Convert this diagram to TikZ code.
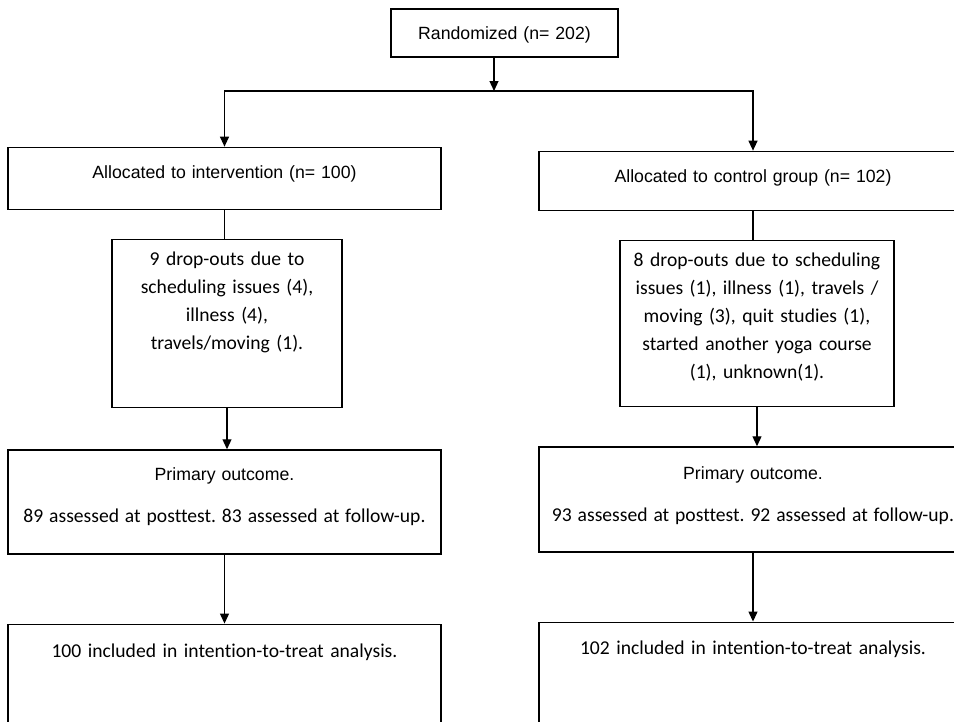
\documentclass[tikz,border=0pt]{standalone}
\usepackage{fontspec}
\newfontfamily\arialfam{Liberation Sans}
\newfontfamily\califam[Ligatures=NoCommon]{Carlito}
\usetikzlibrary{arrows.meta, positioning}
\frenchspacing

\begin{document}
\begin{tikzpicture}[
    x=1pt, y=-1pt,
    box/.style={draw, line width=1.3pt, inner sep=0pt, align=center,
        font=\fontsize{17.7}{28}\selectfont\arialfam},
    sidebox/.style={box, text width=433pt},
    dropbox/.style={box, font=\fontsize{19.6}{28}\selectfont\califam},
    arrow/.style={-{Triangle[length=10pt,width=9pt]}, line width=1.2pt},
    link/.style={line width=1.2pt, line cap=rect}
]
\useasboundingbox (0,0) rectangle (954,721);
\clip (0,0) rectangle (954,721);
\node[box, text width=227pt, text height=30pt, text depth=18pt] (rand) at (504.5,33) {Randomized (n= 202)};
\node[sidebox, text height=31pt, text depth=31pt, below=89pt of rand, xshift=-280pt] (int) {Allocated to intervention (n= 100)};
\node[sidebox, text width=428pt, text height=31pt, text depth=28pt, below=93pt of rand, xshift=248.5pt] (ctrl) {Allocated to control group (n= 102)};
\node[dropbox, text width=230pt, text height=26pt, text depth=142pt, below=29pt of int, xshift=2.5pt] (intdrop) {9 drop-outs due to\\scheduling issues (4),\\illness (4),\\travels/moving (1).};
\node[dropbox, text width=274pt, text height=26pt, text depth=140pt, below=29pt of ctrl, xshift=4pt] (ctrldrop) {8 drop-outs due to scheduling\\issues (1), illness (1), travels /\\moving (3), quit studies (1),\\started another yoga course\\(1), unknown(1).};
\node[sidebox, text height=31pt, text depth=73pt, below=41pt of intdrop, xshift=-2.5pt] (intout) {Primary outcome.\\[14pt]{\fontsize{19.6}{28}\selectfont\califam 89 assessed at posttest. 83 assessed at follow-up.}};
\node[sidebox, text width=428pt, text height=33pt, text depth=72pt, below=39pt of ctrldrop, xshift=-4pt] (ctrlout) {Primary outcome.\\[14pt]{\fontsize{19.6}{28}\selectfont\califam 93 assessed at posttest. 92 assessed at follow-up.}};
\node[dropbox, text width=433pt, text height=33pt, text depth=110pt, below=69pt of intout] (intitt) {100 included in intention-to-treat analysis.};
\node[dropbox, text width=428pt, text height=32pt, text depth=111pt, below=69pt of ctrlout] (ctrlitt) {102 included in intention-to-treat analysis.};
\coordinate (split) at (494,91);
\draw[arrow] (rand.south -| split) -- (split);
\draw[link] (int.north |- split) -- (ctrl.north |- split);
\draw[arrow] (int.north |- split) -- (int.north);
\draw[arrow] (ctrl.north |- split) -- (ctrl.north);
\draw[link] (int.south) -- (int.south |- intdrop.north);
\draw[link] (ctrl.south) -- (ctrl.south |- ctrldrop.north);
\draw[arrow] (intdrop.south) -- (intdrop.south |- intout.north);
\draw[arrow] (ctrldrop.south) -- (ctrldrop.south |- ctrlout.north);
\draw[arrow] (intout.south) -- (intout.south |- intitt.north);
\draw[arrow] (ctrlout.south) -- (ctrlout.south |- ctrlitt.north);
\end{tikzpicture}
\end{document}
